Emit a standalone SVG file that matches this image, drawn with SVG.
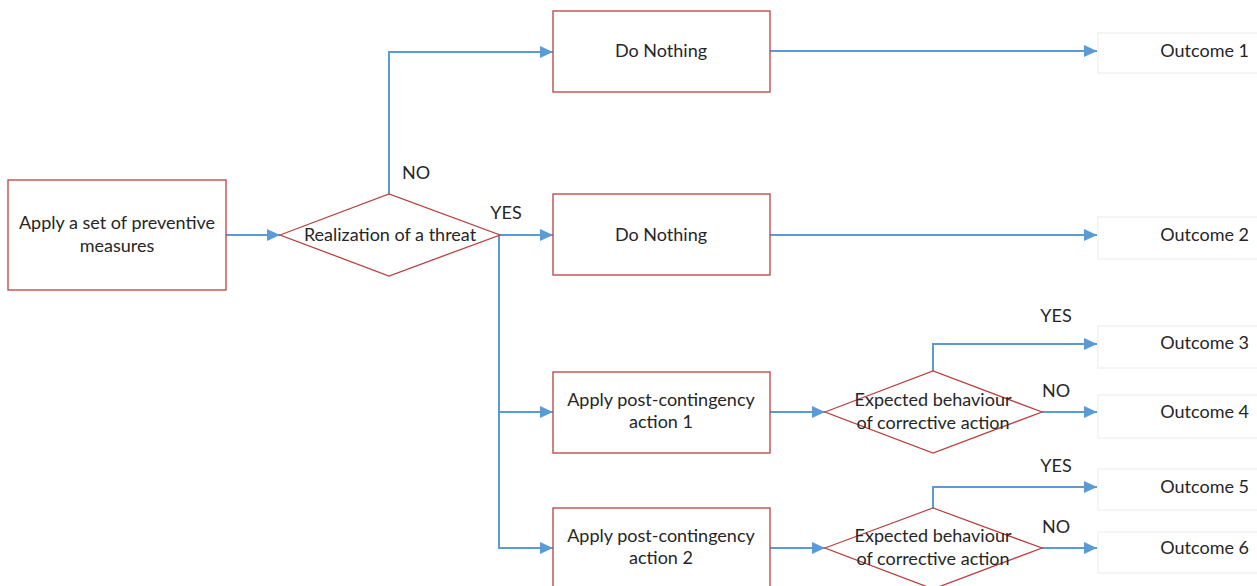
<svg xmlns="http://www.w3.org/2000/svg" width="1257" height="586" viewBox="0 0 1257 586">
<style>
text{font-family:Lato,"Liberation Sans",sans-serif;font-size:18px;fill:#262626;}
.c{text-anchor:middle;}
.r{text-anchor:end;}
.box{fill:#fff;stroke:#b8413f;stroke-width:1.3;}
.out{fill:#fff;stroke:#eeeeee;stroke-width:1.2;}
.ln{fill:none;stroke:#5b9bd5;stroke-width:2;}
</style>
<defs>
<marker id="ah" markerUnits="userSpaceOnUse" markerWidth="14" markerHeight="13" refX="13" refY="6" orient="auto">
<path d="M0,0 L13,6 L0,12 z" fill="#5b9bd5"/>
</marker>
</defs>
<rect width="1257" height="586" fill="#fff"/>
<g id="connectors">
<path class="ln" d="M226,235 H280" marker-end="url(#ah)"/>
<path class="ln" d="M389,194 V52 H553" marker-end="url(#ah)"/>
<path class="ln" d="M500,235 H553" marker-end="url(#ah)"/>
<path class="ln" d="M499,235 V412 H553" marker-end="url(#ah)"/>
<path class="ln" d="M499,412 V548 H553" marker-end="url(#ah)"/>
<path class="ln" d="M770,51 H1097" marker-end="url(#ah)"/>
<path class="ln" d="M770,235 H1097" marker-end="url(#ah)"/>
<path class="ln" d="M770,412 H825" marker-end="url(#ah)"/>
<path class="ln" d="M770,548 H825" marker-end="url(#ah)"/>
<path class="ln" d="M933,371 V344 H1097" marker-end="url(#ah)"/>
<path class="ln" d="M1042,412 H1097" marker-end="url(#ah)"/>
<path class="ln" d="M933,508 V487 H1097" marker-end="url(#ah)"/>
<path class="ln" d="M1042,548 H1097" marker-end="url(#ah)"/>
<text class="c" x="416" y="179">NO</text>
<text class="c" x="506" y="219">YES</text>
<text class="c" x="1056" y="322">YES</text>
<text class="c" x="1056" y="397">NO</text>
<text class="c" x="1056" y="472">YES</text>
<text class="c" x="1056" y="533">NO</text>
</g>
<g id="preventive">
<rect class="box" x="8" y="180" width="218" height="110"/>
<text class="c" x="117" y="229">Apply a set of preventive</text>
<text class="c" x="117" y="252">measures</text>
</g>
<g id="threat">
<polygon class="box" points="280,235 389,194 500,235 389,276"/>
<text class="c" x="390" y="241">Realization of a threat</text>
</g>
<g id="nothing1">
<rect class="box" x="553" y="11" width="217" height="81"/>
<text class="c" x="661" y="57">Do Nothing</text>
</g>
<g id="nothing2">
<rect class="box" x="553" y="194" width="217" height="81"/>
<text class="c" x="661" y="241">Do Nothing</text>
</g>
<g id="post1">
<rect class="box" x="553" y="372" width="217" height="81"/>
<text class="c" x="661" y="406">Apply post-contingency</text>
<text class="c" x="661" y="428">action 1</text>
</g>
<g id="post2">
<rect class="box" x="553" y="508" width="217" height="81"/>
<text class="c" x="661" y="542">Apply post-contingency</text>
<text class="c" x="661" y="564">action 2</text>
</g>
<g id="expected1">
<polygon class="box" points="825,412 933,371 1042,412 933,453"/>
<text class="c" x="933" y="406">Expected behaviour</text>
<text class="c" x="933" y="429">of corrective action</text>
</g>
<g id="expected2">
<polygon class="box" points="825,548 933,508 1042,548 933,589"/>
<text class="c" x="933" y="542">Expected behaviour</text>
<text class="c" x="933" y="565">of corrective action</text>
</g>
<g id="outcome1"><rect class="out" x="1098" y="33" width="170" height="40"/><text class="r" x="1249" y="57">Outcome 1</text></g>
<g id="outcome2"><rect class="out" x="1098" y="217" width="170" height="42"/><text class="r" x="1249" y="241">Outcome 2</text></g>
<g id="outcome3"><rect class="out" x="1098" y="326" width="170" height="42"/><text class="r" x="1249" y="349">Outcome 3</text></g>
<g id="outcome4"><rect class="out" x="1098" y="395" width="170" height="43"/><text class="r" x="1249" y="418">Outcome 4</text></g>
<g id="outcome5"><rect class="out" x="1098" y="469" width="170" height="41"/><text class="r" x="1249" y="493">Outcome 5</text></g>
<g id="outcome6"><rect class="out" x="1098" y="532" width="170" height="41"/><text class="r" x="1249" y="554">Outcome 6</text></g>
</svg>
